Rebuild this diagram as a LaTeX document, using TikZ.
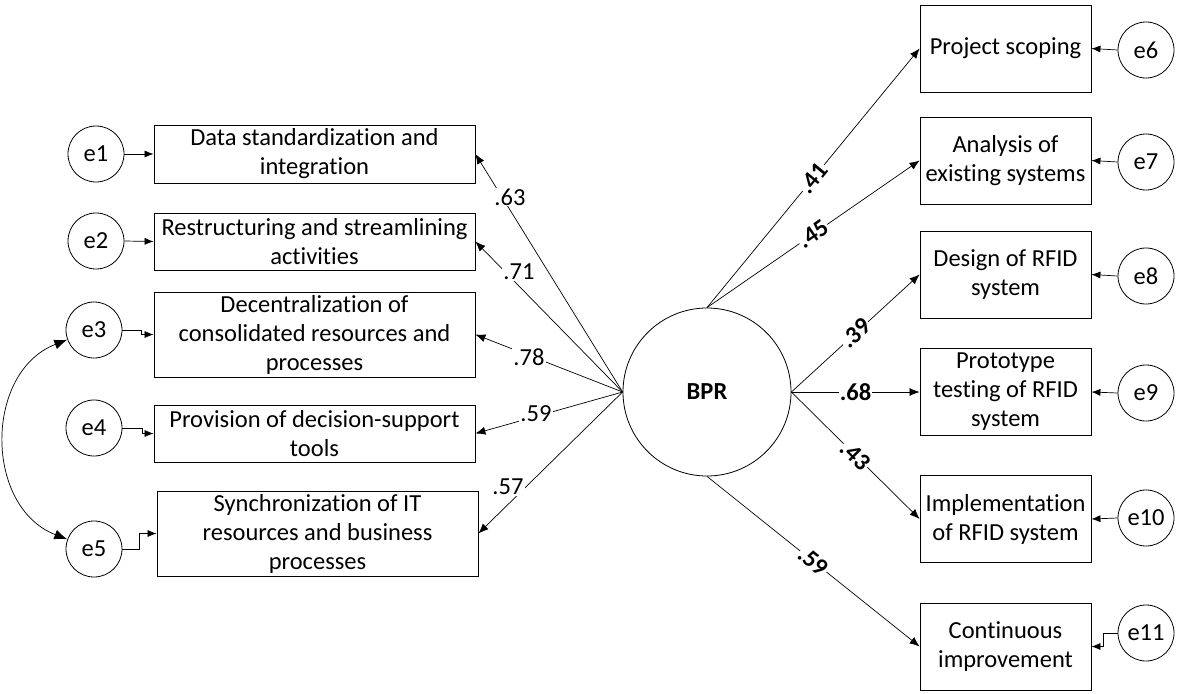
\documentclass[tikz,border=0pt]{standalone}
\usepackage{fontspec}
\setmainfont{Carlito}[Ligatures={NoCommon}]
\usetikzlibrary{arrows.meta}
\begin{document}
\begin{tikzpicture}[x=1pt,y=-1pt,
  font=\fontsize{24.5}{29}\selectfont,
  box/.style={draw, rectangle, line width=0.8pt, inner sep=0pt, align=center},
  lbox/.style={box, minimum width=321pt},
  rbox/.style={box, minimum width=171pt, minimum height=87pt},
  errc/.style={draw, circle, line width=0.8pt, minimum size=56pt, inner sep=0pt},
  latent/.style={draw, circle, line width=0.8pt, minimum size=168pt, inner sep=0pt, font=\fontsize{24.5}{29}\selectfont\bfseries},
  load/.style={-{Latex[length=10pt,width=8pt]}, line width=0.7pt},
  earr/.style={-{Latex[length=9pt,width=7pt]}, line width=0.7pt},
  cov/.style={{Latex[length=13pt,width=10pt]}-{Latex[length=13pt,width=10pt]}, line width=0.7pt},
  coef/.style={fill=white, inner sep=1pt},
  bcoef/.style={fill=white, inner sep=1pt, font=\fontsize{24.5}{29}\selectfont\bfseries, sloped}
]
\path[use as bounding box, fill=white] (0,0) rectangle (1182,693);

% latent
\node[latent] (bpr) at (707,392) {BPR};

% left boxes
\node[lbox, minimum height=58pt] (b1) at (314.5,154) {Data standardization and\\integration};
\node[lbox, minimum height=57pt] (b2) at (314.5,241.5) {Restructuring and streamlining\\activities};
\node[lbox, minimum height=85pt] (b3) at (314.5,334.5) {Decentralization of\\consolidated resources and\\processes};
\node[lbox, minimum height=57pt] (b4) at (314.5,433.5) {Provision of decision-support\\tools};
\node[lbox, minimum height=85pt] (b5) at (317.5,533.5) {Synchronization of IT\\resources and business\\processes};

% left errors
\node[errc] (e1) at (96,154) {e1};
\node[errc] (e2) at (96,241) {e2};
\node[errc] (e3) at (94,330) {e3};
\node[errc] (e4) at (94,428) {e4};
\node[errc] (e5) at (94,549) {e5};

% right boxes
\node[rbox] (b6) at (1005.5,48.5) {Project scoping};
\node[rbox] (b7) at (1005.5,160.5) {Analysis of\\existing systems};
\node[rbox] (b8) at (1005.5,274.5) {Design of RFID\\system};
\node[rbox] (b9) at (1005.5,392) {Prototype\\testing of RFID\\system};
\node[rbox] (b10) at (1005.5,519) {Implementation\\of RFID system};
\node[rbox] (b11) at (1005.5,646.5) {Continuous\\improvement};

% right errors
\node[errc] (e6) at (1146,50) {e6};
\node[errc] (e7) at (1146,162) {e7};
\node[errc] (e8) at (1146,276) {e8};
\node[errc] (e9) at (1146,393) {e9};
\node[errc] (e10) at (1146,518) {e10};
\node[errc] (e11) at (1146,633) {e11};

% left loadings
\draw[load] (bpr.west) -- (b1.east);
\draw[load] (bpr.west) -- (b2.east);
\draw[load] (bpr.west) -- (b3.east);
\draw[load] (bpr.west) -- (b4.east);
\draw[load] (bpr.west) -- (b5.east);
\node[coef] (l1) at (510,197) {.63};
\node[coef] (l2) at (519,272) {.71};
\node[coef] (l3) at (529,357) {.78};
\node[coef] (l4) at (536,414) {.59};
\node[coef] (l5) at (508,487) {.57};

% right loadings
\draw[load] (bpr.north) -- node[bcoef, pos=0.5] (l6) {.41} (b6.west);
\draw[load] (bpr.north) -- node[bcoef, pos=0.5] (l7) {.45} (b7.west);
\draw[load] (bpr.east) -- node[bcoef, pos=0.5] (l8) {.39} (b8.west);
\draw[load] (bpr.east) -- node[bcoef, pos=0.5] (l9) {.68} (b9.west);
\draw[load] (bpr.east) -- node[bcoef, pos=0.5] (l10) {.43} (b10.west);
\draw[load] (bpr.south) -- node[bcoef, pos=0.5] (l11) {.59} (b11.west);

% error arrows left
\draw[earr] (e1.east) -- (b1.west);
\draw[earr] (e2.east) -- (b2.west);
\draw[earr] (e3.east) -- ++(19,0) |- (b3.west);
\draw[earr] (e4.east) -- ++(20,0) |- (b4.west);
\draw[earr] (e5.east) -- ++(17,0) |- (b5.west);

% error arrows right
\draw[earr] (e6.west) -- (b6.east);
\draw[earr] (e7.west) -- (b7.east);
\draw[earr] (e8.west) -- (b8.east);
\draw[earr] (e9.west) -- (b9.east);
\draw[earr] (e10.west) -- (b10.east);
\draw[earr] (e11.west) -- ++(-14,0) |- (b11.east);

% covariance
\draw[cov] (e3.200) .. controls (-16,372) and (-16,507) .. (e5.160);
\end{tikzpicture}
\end{document}
